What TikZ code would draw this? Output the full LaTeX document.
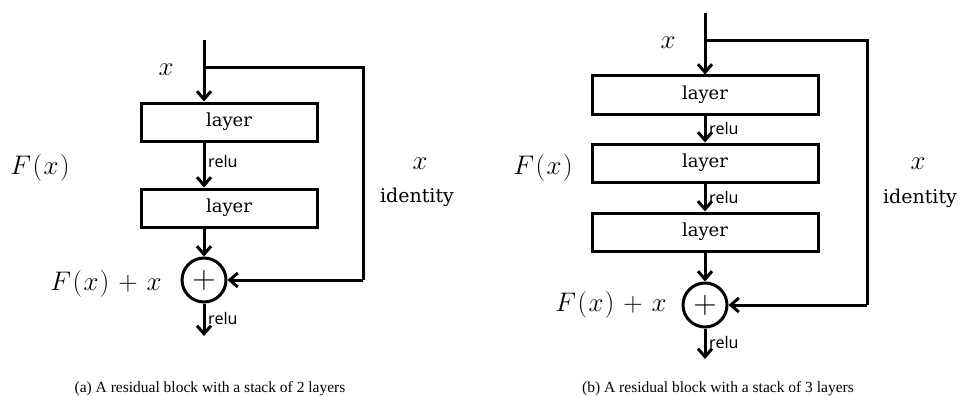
\documentclass[tikz,border=0pt]{standalone}
\usepackage{fontspec}
\setmainfont{DejaVu Serif}
\newfontfamily\lblfont{Noto Sans}
\newfontfamily\capfont{Liberation Serif}
\usetikzlibrary{arrows.meta}
\tikzset{
  x=1pt, y=-1pt,
  conn/.style={line width=3pt, -{Straight Barb[length=8pt,width=14pt,line width=3pt]}},
  plainline/.style={line width=3pt},
  layerbox/.style={draw, line width=3pt, minimum width=176pt, minimum height=38pt, inner sep=0pt, font=\fontsize{18}{20}\selectfont},
  addnode/.style={draw, circle, line width=3pt, minimum size=44pt, inner sep=0pt, font=\fontsize{24.88}{27}\selectfont},
  relulbl/.style={font=\lblfont\fontsize{16}{18}\selectfont, anchor=west, inner sep=1pt},
  mathlbl/.style={font=\fontsize{24.88}{27}\selectfont, inner sep=0pt},
  idlbl/.style={font=\fontsize{19}{21}\selectfont, inner sep=0pt},
  caplbl/.style={font=\capfont\fontsize{15.5}{17}\selectfont, inner sep=0pt}
}
\newcommand{\Fx}{F\mkern1mu(\mkern1mu x\mkern1mu)}
\newcommand{\mylbl}[1]{\scalebox{1.08}{$#1$}}
\begin{document}
\begin{tikzpicture}
\useasboundingbox (0,0) rectangle (961,396);
% ---------- (a) ----------
\coordinate (atop) at (204,40);
\coordinate (abr) at (204,68);
\coordinate (ar1) at (363,68);
\coordinate (ar2) at (363,280);
\node[layerbox] (a1) at (229,122) {layer};
\node[layerbox] (a2) at (229,208) {layer};
\node[addnode] (ap) at (204,280) {\scalebox{1.3}{$+$}};
\coordinate (aout) at (204,336);
\draw[conn] (atop) -- (atop |- a1.north);
\draw[plainline] (abr) -- (ar1) -- (ar2);
\draw[conn] (ar2) -- (ap.east);
\draw[conn] (atop |- a1.south) -- (atop |- a2.north);
\draw[conn] (atop |- a2.south) -- (ap.north);
\draw[conn] (ap.south) -- (aout);
\node[relulbl] (ar1l) at (207,161) {relu};
\node[relulbl] (ar2l) at (207,318) {relu};
\node[mathlbl] (ax) at (166,70) {\mylbl{x}};
\node[mathlbl] (aF) at (40,168) {\mylbl{\Fx}};
\node[mathlbl] (aFx) at (106,284) {\mylbl{\Fx\mkern2mu+\mkern2mu x}};
\node[mathlbl] (aix) at (420,164) {\mylbl{x}};
\node[idlbl] (aid) at (417,197) {identity};
\node[caplbl, anchor=base] (acap) at (210,392) {(a) A residual block with a stack of 2 layers};
% ---------- (b) ----------
\coordinate (btop) at (705,13);
\coordinate (bbr) at (705,41);
\coordinate (br1) at (867,41);
\coordinate (br2) at (867,305);
\node[layerbox, minimum width=226pt] (b1) at (705,95) {layer};
\node[layerbox, minimum width=226pt] (b2) at (705,163) {layer};
\node[layerbox, minimum width=226pt] (b3) at (705,232) {layer};
\node[addnode] (bp) at (705,305) {\scalebox{1.3}{$+$}};
\coordinate (bout) at (705,359);
\draw[conn] (btop) -- (b1.north);
\draw[plainline] (bbr) -- (br1) -- (br2);
\draw[conn] (br2) -- (bp.east);
\draw[conn] (b1.south) -- (b2.north);
\draw[conn] (b2.south) -- (b3.north);
\draw[conn] (b3.south) -- (bp.north);
\draw[conn] (bp.south) -- (bout);
\node[relulbl] (bl1) at (708,128) {relu};
\node[relulbl] (bl2) at (708,197) {relu};
\node[relulbl] (bl3) at (708,342) {relu};
\node[mathlbl] (bx) at (668,43) {\mylbl{x}};
\node[mathlbl] (bF) at (543,168) {\mylbl{\Fx}};
\node[mathlbl] (bFx) at (611,305) {\mylbl{\Fx\mkern2mu+\mkern2mu x}};
\node[mathlbl] (bix) at (918,164) {\mylbl{x}};
\node[idlbl] (bid) at (920,198) {identity};
\node[caplbl, anchor=base] (bcap) at (718,392) {(b) A residual block with a stack of 3 layers};
\end{tikzpicture}
\end{document}
